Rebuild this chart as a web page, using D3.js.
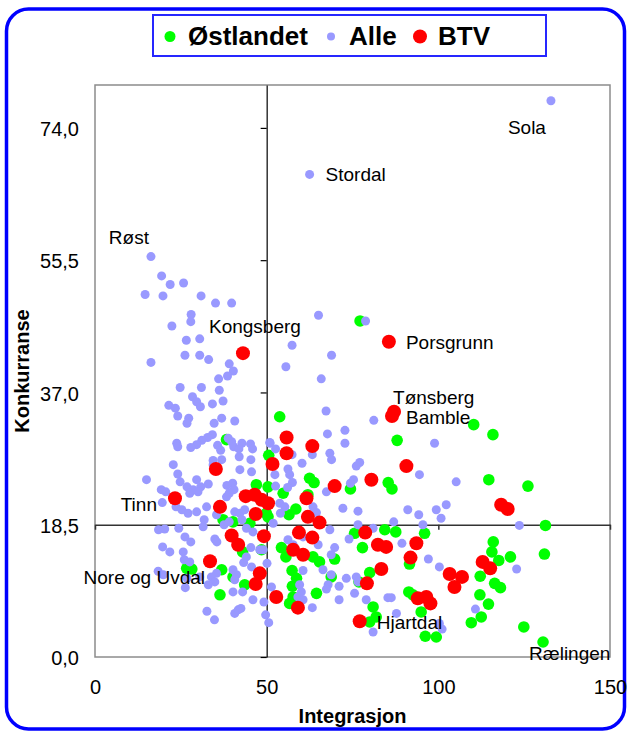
<!DOCTYPE html>
<html>
<head>
<meta charset="utf-8">
<script src="https://cdn.jsdelivr.net/npm/d3@7"></script>
<style>
    body { margin: 0; background: #fff; }
    svg { display: block; font-family: Arial, "Liberation Sans", sans-serif; }
</style>
</head>
<body>
<svg id="chart" width="628" height="733"></svg>
<script>

// Tick values
const xTicks = [0, 50, 100, 150];
const yTicks = [0, 18.5, 37, 55.5, 74];

// Series, in legend order
const seriesNames = ["Østlandet", "Alle", "BTV"];

// [Integrasjon, Konkurranse]
const alle = [
    [16.3,56.0],[19.4,53.3],[21.9,52.1],[25.8,52.3],[14.6,50.7],[19.8,50.5],[30.9,50.5],[35.1,49.5],[39.8,49.5],
    [28.0,47.9],[27.9,46.9],[22.4,46.3],[26.6,44.3],[30.5,44.5],[26.2,42.2],[30.5,42.2],[33.1,41.6],[16.3,41.2],
    [39.1,41.0],[40.3,40.0],[38.6,39.3],[36.0,38.9],[24.8,37.7],[31.0,37.7],[36.2,37.3],[28.4,36.4],[29.6,35.7],
    [30.7,35.0],[21.5,35.2],[23.4,34.8],[24.1,33.7],[34.2,35.4],[37.3,35.8],[27.3,33.4],[26.8,32.7],[36.9,33.4],
    [34.7,32.7],[40.7,33.0],[34.2,31.1],[32.8,30.7],[31.1,30.3],[29.6,29.7],[27.9,29.3],[23.8,29.9],[24.1,29.4],
    [38.8,30.6],[39.8,30.1],[40.4,29.4],[42.8,29.9],[41.9,29.1],[45.3,29.8],[45.9,29.1],[35.7,29.6],[36.6,28.9],
    [50.9,30.0],[22.8,26.9],[36.9,27.6],[42.0,28.0],[45.4,27.6],[34.4,27.5],[62.5,67.5],[132.8,77.8],
    [65.1,47.8],[78.8,47.0],[57.4,43.6],[68.9,42.2],[55.6,40.6],[65.9,38.9],[67.3,34.4],[81.2,33.1],[67.7,31.2],
    [72.8,31.7],[72.8,29.9],[98.9,29.9],[51.0,29.9],[52.6,29.1],[57.4,28.3],[63.3,28.3],[68.4,28.5],[68.9,27.6],
    [60.3,27.1],[77.1,27.2],[76.1,26.7],[56.2,26.3],
    [24.1,25.6],[24.8,24.5],[15.0,24.8],[19.3,23.4],[20.6,23.1],[19.6,21.6],[26.8,23.8],[29.6,24.8],[28.6,23.4],
    [30.8,23.8],[33.0,24.2],[27.6,22.9],[30.0,23.1],[38.4,24.0],[40.1,24.3],[40.5,23.4],[39.1,22.9],[38.3,22.4],
    [23.6,21.0],[25.3,20.6],[27.1,20.1],[29.6,20.3],[32.5,21.0],[35.4,19.9],[40.7,20.3],[42.2,20.1],[34.4,26.9],
    [42.2,26.2],[45.6,25.9],[43.6,20.6],[31.8,19.2],[31.5,18.2],[37.6,18.5],[39.1,18.9],[42.8,19.2],[44.1,18.0],
    [46.0,17.5],[18.5,17.8],[20.3,17.9],[24.4,18.0],[26.2,16.8],[27.9,16.1],[34.9,16.5],[35.5,16.1],[19.7,15.4],
    [21.8,14.7],[25.7,14.7],[26.0,13.6],[27.6,13.3],[18.4,12.0],[19.9,11.5],[26.8,11.0],[26.3,9.7],[30.5,11.2],
    [33.9,11.2],[35.4,11.7],[34.9,10.5],[33.0,10.1],[40.2,12.2],[41.2,11.5],[40.7,10.8],[43.3,13.2],[44.1,14.0],
    [45.4,15.3],[45.6,12.6],[40.2,9.1],[43.0,9.1],[49.2,7.7],[32.6,6.4],[34.8,5.2],[40.7,6.1],[41.7,6.6],
    [42.5,6.8],[49.7,5.9],[50.6,4.8],[46.0,8.0],[51.4,9.8],[48.0,15.0],[51.9,18.7],[48.5,21.7],
    [94.5,25.5],[105.2,24.5],[52.4,25.5],[56.7,25.5],[57.5,24.4],[52.6,23.9],[56.1,23.7],[53.8,21.5],[54.0,20.1],
    [55.3,21.0],[67.4,23.1],[75.3,24.8],[74.4,24.3],[63.5,21.0],[64.5,20.2],[72.2,20.8],[76.6,20.4],[91.1,20.6],
    [94.3,19.9],[99.4,20.6],[102.3,21.3],[100.8,19.4],[68.4,17.8],[76.6,18.5],[81.0,18.0],[87.0,18.9],[95.5,18.5],
    [74.0,16.5],[56.2,16.4],[57.7,15.7],[60.6,16.8],[69.8,15.3],[68.8,14.3],[65.0,15.7],[49.0,15.0],[89.4,15.9],
    [97.1,13.7],[100.3,12.6],[50.1,13.1],[60.6,12.1],[66.4,12.2],[68.8,11.5],[73.2,11.0],[76.1,11.2],[76.6,10.5],
    [67.9,10.1],[71.1,9.9],[67.4,9.5],[59.6,10.1],[60.1,9.1],[59.1,8.4],[75.6,8.9],[79.0,8.0],[71.1,8.0],
    [85.3,8.3],[86.3,8.3],[87.8,6.1],[63.3,6.9],[60.6,8.0],[81.0,3.5],[100.3,4.7],[101.1,3.9],[123.6,18.4],
    [122.8,12.3],[110.8,6.7]
];

const ostlandet = [
    [38.3,30.4],[53.8,33.6],[50.6,28.2],[77.2,47.0],[88.0,30.3],[110.3,32.5],[115.9,31.1],[26.7,12.4],[28.2,12.3],
    [36.9,12.2],[36.4,8.7],[43.6,10.1],[40.2,11.2],[43.0,14.7],[48.5,15.0],[37.3,19.2],[40.2,18.9],[47.0,24.1],
    [50.4,23.8],[50.4,19.6],[45.1,18.7],[62.5,25.0],[63.8,24.4],[74.4,23.5],[85.4,24.4],[86.5,23.5],[54.8,22.9],
    [62.0,22.7],[58.5,20.7],[56.5,19.9],[49.9,20.1],[84.4,17.8],[87.6,17.5],[96.0,17.3],[75.6,17.3],[77.9,15.3],
    [54.3,15.3],[55.6,14.0],[63.5,14.0],[65.4,13.3],[69.8,13.7],[91.6,13.0],[57.4,12.1],[58.7,11.0],[57.5,9.9],
    [68.8,11.2],[80.0,11.8],[76.9,10.5],[64.5,8.9],[56.7,7.5],[57.7,8.4],[91.4,9.1],[92.6,8.7],[81.0,7.0],
    [81.9,5.6],[80.0,4.9],[95.0,6.3],[96.2,2.9],[99.4,2.8],[114.7,24.8],[126.1,23.9],[131.2,18.4],[116.0,16.1],
    [115.6,14.7],[117.6,13.5],[121.0,14.0],[130.9,14.4],[112.2,11.3],[116.4,10.3],[118.1,9.7],[112.1,8.7],
    [114.6,7.4],[112.5,5.6],[109.6,4.8],[124.9,4.2],[130.5,2.1]
];

const btv = [
    [43.1,42.5],[51.7,27.0],[35.2,26.3],[85.6,44.1],[87.1,34.3],[86.5,33.7],[55.8,30.7],[63.3,29.5],[55.8,28.5],
    [90.7,26.7],[23.3,22.2],[36.4,21.0],[43.9,22.5],[46.5,22.7],[48.5,22.0],[50.4,21.5],[46.8,20.0],[39.8,17.0],
    [41.7,15.7],[49.2,16.9],[33.5,13.4],[48.0,11.7],[46.8,10.2],[52.8,8.4],[80.5,24.8],[69.8,23.9],[61.6,22.2],
    [62.0,19.6],[65.4,18.8],[59.4,17.4],[63.3,16.7],[78.7,17.4],[82.4,15.7],[84.8,15.4],[93.6,15.9],[91.9,13.9],
    [57.7,15.0],[60.6,14.3],[83.4,12.3],[79.2,10.3],[59.1,6.9],[94.0,8.2],[96.5,8.4],[97.7,7.5],[77.1,5.0],
    [118.3,21.3],[120.2,20.7],[112.9,13.3],[115.1,12.4],[103.3,11.6],[106.9,11.2],[104.7,9.8]
];

// Named municipalities
const labelNames = ["Sola", "Stordal", "Røst", "Kongsberg", "Porsgrunn", "Tønsberg", "Bamble",
                    "Tinn", "Nore og Uvdal", "Hjartdal", "Rælingen"];
const labelPoints = [[132.8,77.8],[62.5,67.5],[16.3,56.0],[43.1,42.5],[85.6,44.1],[87.1,34.3],[86.5,33.7],
                     [23.3,22.2],[33.5,13.4],[77.1,5.0],[130.5,2.1]];


class ScatterChart {
    constructor() {

        this.svg = d3.select('#chart');

        // Plot area (Excel style, frame + crossing axes)
        this.plot = {left: 95, right: 610, top: 85, bottom: 657};

        this.xScale = d3.scaleLinear()
            .domain([0, 150])
            .range([this.plot.left, this.plot.right]);

        this.yScale = d3.scaleLinear()
            .domain([0, 80])
            .range([this.plot.bottom, this.plot.top]);

        this.colors = {"Østlandet": "#00ff00", "Alle": "#9999ff", "BTV": "#ff0000"};
        this.radius = {"Østlandet": 5.8, "Alle": 4.5, "BTV": 7};

        // Norwegian decimal comma
        this.fmt = d3.formatLocale({decimal: ",", thousands: " ", grouping: [3], currency: ["", " kr"]}).format(".1f");

        this.drawBorder();
        this.drawAxes();
        this.drawPoints();
        this.drawLabels();
        this.drawLegend();
    }

    drawBorder() {
        this.svg.append('rect')
            .attr('x', 6.5).attr('y', 9)
            .attr('width', 618).attr('height', 720)
            .attr('rx', 22).attr('ry', 22)
            .attr('fill', 'none')
            .attr('stroke', '#0000ff')
            .attr('stroke-width', 3.5);
    }

    drawAxes() {
        const svg = this.svg;
        const p = this.plot;

        // frame
        svg.append('rect')
            .attr('x', p.left).attr('y', p.top)
            .attr('width', p.right - p.left).attr('height', p.bottom - p.top)
            .attr('fill', 'none')
            .attr('stroke', '#8c8c8c')
            .attr('stroke-width', 1.5);

        // vertical axis line crossing at x = 50
        svg.append('g')
            .attr('transform', `translate(${this.xScale(50)}, 0)`)
            .call(d3.axisLeft(this.yScale).tickValues(yTicks).tickSize(6).tickSizeOuter(0).tickFormat(''))
            .call(g => g.selectAll('path, line').attr('stroke', '#000').attr('stroke-width', 1.2));

        // horizontal axis line crossing at y = 18.5
        svg.append('g')
            .attr('transform', `translate(0, ${this.yScale(18.5)})`)
            .call(d3.axisBottom(this.xScale).tickValues(xTicks).tickSize(5).tickSizeOuter(0).tickFormat(''))
            .call(g => g.selectAll('path, line').attr('stroke', '#333').attr('stroke-width', 1.5));

        // tick labels sit at the low edge of the plot
        svg.append('g')
            .attr('transform', `translate(${p.left}, 0)`)
            .call(d3.axisLeft(this.yScale).tickValues(yTicks).tickSize(0).tickPadding(16).tickFormat(this.fmt))
            .call(g => g.select('.domain').remove())
            .attr('font-size', 20)
            .attr('font-family', null)
            .selectAll('text').attr('fill', '#000').attr('dy', '0.38em');

        svg.append('g')
            .attr('transform', `translate(0, ${p.bottom})`)
            .call(d3.axisBottom(this.xScale).tickValues(xTicks).tickSize(0).tickPadding(23))
            .call(g => g.select('.domain').remove())
            .attr('font-size', 20)
            .attr('font-family', null)
            .selectAll('text').attr('fill', '#000');

        // axis titles
        svg.append('text')
            .attr('x', (p.left + p.right) / 2)
            .attr('y', 723)
            .attr('text-anchor', 'middle')
            .attr('font-weight', 'bold')
            .attr('font-size', 20)
            .text('Integrasjon');

        svg.append('text')
            .attr('transform', `translate(29, ${(p.top + p.bottom) / 2}) rotate(-90)`)
            .attr('text-anchor', 'middle')
            .attr('font-weight', 'bold')
            .attr('font-size', 20)
            .text('Konkurranse');
    }

    drawPoints() {
        const series = [ostlandet, alle, btv];

        seriesNames.forEach((name, i) => {
            this.svg.append('g')
                .selectAll('circle')
                .data(series[i])
                .join('circle')
                .attr('cx', d => this.xScale(d[0]))
                .attr('cy', d => this.yScale(d[1]))
                .attr('r', this.radius[name])
                .attr('fill', this.colors[name]);
        });
    }

    drawLabels() {
        // offsets from the point: [dx, dy (baseline), anchor]
        const offsets = [
            [-5, 33, 'end'], [16, 7, 'start'], [-2, -13, 'end'], [-34, -20, 'start'],
            [17, 7, 'start'], [-1, -8, 'start'], [14, 8, 'start'], [-18, 13, 'end'],
            [-5, 23, 'end'], [17, 8, 'start'], [-14, 18, 'start']
        ];

        this.svg.append('g')
            .selectAll('text')
            .data(labelNames)
            .join('text')
            .attr('x', (d, i) => this.xScale(labelPoints[i][0]) + offsets[i][0])
            .attr('y', (d, i) => this.yScale(labelPoints[i][1]) + offsets[i][1])
            .attr('text-anchor', (d, i) => offsets[i][2])
            .attr('font-size', 19)
            .attr('fill', '#000')
            .text(d => d);
    }

    drawLegend() {
        const g = this.svg.append('g');

        g.append('rect')
            .attr('x', 153).attr('y', 15)
            .attr('width', 393).attr('height', 41)
            .attr('fill', '#fff')
            .attr('stroke', '#2626ff')
            .attr('stroke-width', 2);

        const markerX = [170, 331, 420];
        const legendR = {"Østlandet": 5.5, "Alle": 4, "BTV": 7};

        seriesNames.forEach((name, i) => {
            g.append('circle')
                .attr('cx', markerX[i]).attr('cy', 36.5)
                .attr('r', legendR[name])
                .attr('fill', this.colors[name]);

            g.append('text')
                .attr('x', markerX[i] + 18)
                .attr('y', 44.5)
                .attr('font-size', 26)
                .attr('font-weight', 'bold')
                .text(name);
        });
    }
}

new ScatterChart();

</script>
</body>
</html>
